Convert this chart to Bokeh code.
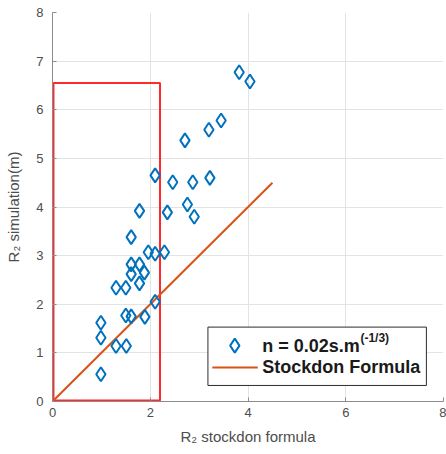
from bokeh.plotting import figure
from bokeh.embed import file_html
from bokeh.resources import INLINE
from bokeh.models import Range1d, FixedTicker
from bokeh.core.properties import value

# Data
stockdon_x = [3.82, 4.04, 3.20, 3.45, 2.71, 2.10, 2.46, 2.87, 3.22, 1.78, 2.35, 2.76, 2.90, 1.61,
              1.96, 2.10, 2.29, 1.61, 1.78, 1.61, 1.88, 1.78, 1.30, 1.50, 2.10, 1.50, 1.61, 1.89,
              0.99, 0.99, 1.30, 1.51, 0.99]
simulation_y = [6.77, 6.58, 5.59, 5.78, 5.37, 4.65, 4.51, 4.51, 4.60, 3.92, 3.89, 4.05, 3.80, 3.38,
                3.07, 3.04, 3.07, 2.82, 2.82, 2.62, 2.65, 2.43, 2.34, 2.34, 2.05, 1.77, 1.75, 1.74,
                1.62, 1.31, 1.14, 1.14, 0.56]
formula_x = [0, 4.5]
formula_y = [0, 4.5]
box_left, box_right, box_bottom, box_top = 0.02, 2.2, 0.02, 6.55
x_ticks = [0, 2, 4, 6, 8]
y_ticks = [0, 1, 2, 3, 4, 5, 6, 7, 8]
series_label = "n = 0.02s.m"
series_sup = "(-1/3)"
line_label = "Stockdon Formula"

BLUE = "#0072BD"
ORANGE = "#D95319"
FONT = "Liberation Sans"

p = figure(width=446, height=454, output_backend="svg", toolbar_location=None,
           x_range=Range1d(0, 8), y_range=Range1d(0, 8),
           min_border_left=52, min_border_right=3, min_border_top=12, min_border_bottom=53)
p.outline_line_color = None
p.background_fill_color = "white"

for ax in (p.xaxis[0], p.yaxis[0]):
    ax.major_tick_in = 4
    ax.major_tick_out = 0
    ax.minor_tick_in = 0
    ax.minor_tick_out = 0
    ax.axis_line_color = "#8c8c8c"
    ax.major_tick_line_color = "#8c8c8c"
    ax.major_label_text_font = FONT
    ax.major_label_text_font_size = "13px"
    ax.major_label_text_color = "#4d4d4d"
    ax.axis_label_text_font = FONT
    ax.axis_label_text_font_size = "15px"
    ax.axis_label_text_font_style = "normal"
    ax.axis_label_text_color = "#4d4d4d"

p.xaxis.ticker = FixedTicker(ticks=x_ticks)
p.yaxis.ticker = FixedTicker(ticks=y_ticks)
p.xaxis.axis_label = "R\u2082 stockdon formula"
p.yaxis.axis_label = "R\u2082 simulation(m)"
p.xaxis.major_label_standoff = 6
p.yaxis.major_label_standoff = 9
p.xaxis.axis_label_standoff = 8
p.yaxis.axis_label_standoff = 11

p.xgrid.grid_line_color = "#e3e3e3"
p.ygrid.grid_line_color = "#e3e3e3"

# red rectangle
p.quad(left=[box_left], right=[box_right], bottom=[box_bottom], top=[box_top],
       fill_color=None, line_color="#ff2a2a", line_width=2)

# Stockdon line
p.line(formula_x, formula_y, line_color=ORANGE, line_width=2)

# simulation points
p.scatter(stockdon_x, simulation_y, marker="diamond", size=14, fill_color=None,
          line_color=BLUE, line_width=2)

# legend (drawn manually for superscript)
p.quad(left=[3.18], right=[7.65], bottom=[0.33], top=[1.53],
       fill_color="white", line_color="#2b2b2b", line_width=1)
p.scatter([3.73], [1.15], marker="diamond", size=14, fill_color=None,
          line_color=BLUE, line_width=2)
p.line([3.27, 4.2], [0.70, 0.70], line_color=ORANGE, line_width=2)
p.text([4.29], [1.15], text=[series_label], text_font=value(FONT), text_font_size="18px",
       text_font_style="bold", text_baseline="middle", text_color="#1a1a1a")
p.text([6.30], [1.30], text=[series_sup], text_font=value(FONT), text_font_size="12px",
       text_font_style="bold", text_baseline="middle", text_color="#1a1a1a")
p.text([4.29], [0.70], text=[line_label], text_font=value(FONT), text_font_size="18px",
       text_font_style="bold", text_baseline="middle", text_color="#1a1a1a")

open("out.html", "w").write(file_html(p, INLINE))
